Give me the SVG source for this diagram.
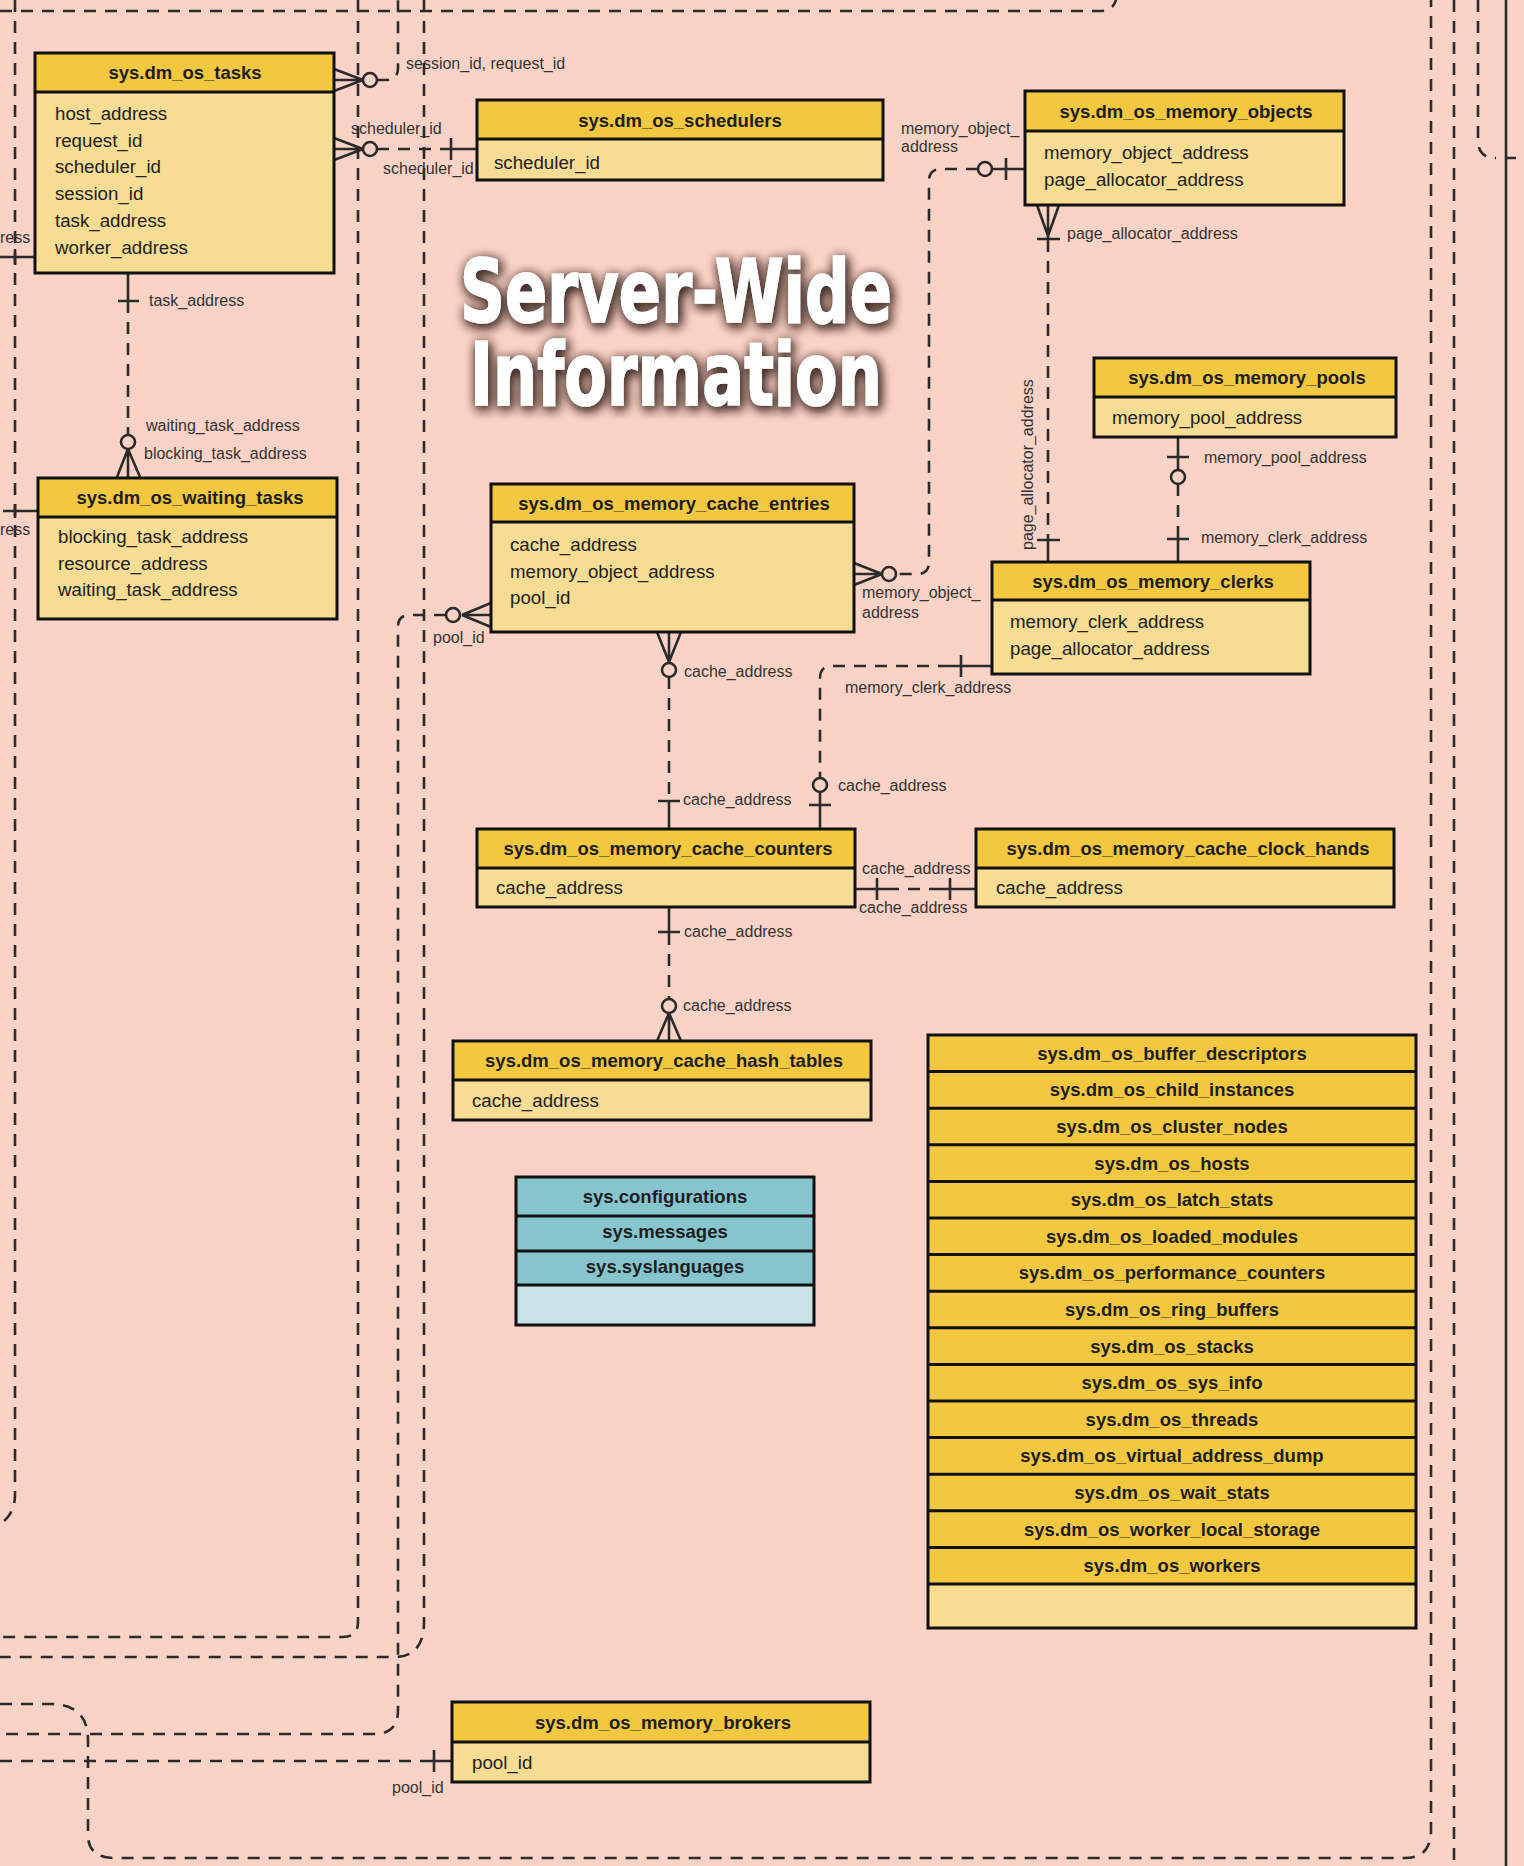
<svg xmlns="http://www.w3.org/2000/svg" width="1524" height="1866" viewBox="0 0 1524 1866">
<defs>
<style>
.hd{fill:#F2C840}
.fd{fill:#F7DC93}
.th{fill:#86C5CD}
.tl{fill:#C8E2E6}
.ob{fill:none;stroke:#111;stroke-width:3}
.dv{stroke:#111;stroke-width:3}
.ht{font-family:"Liberation Sans",Arial,sans-serif;font-weight:bold;font-size:18.5px;fill:#1e1e1e;text-anchor:middle}
.ft{font-family:"Liberation Sans",Arial,sans-serif;font-size:18.7px;fill:#222}
.lb{font-family:"Liberation Sans",Arial,sans-serif;font-size:16px;fill:#333}
.dl{fill:none;stroke:#2b2b2b;stroke-width:2.6;stroke-dasharray:12 9}
.sl{fill:none;stroke:#2b2b2b;stroke-width:2.6}
.ci{fill:#FAD3C6;stroke:#2b2b2b;stroke-width:2.6}
.tt{font-family:"DejaVu Sans",sans-serif;font-weight:bold;font-stretch:condensed;font-size:88px;fill:#fff;stroke:#fff;stroke-width:1.5}
</style>
<filter id="glow" x="-20%" y="-50%" width="140%" height="200%">
<feGaussianBlur in="SourceAlpha" stdDeviation="6" result="b"/>
<feOffset in="b" dx="2" dy="3" result="o"/>
<feFlood flood-color="#3b2622" flood-opacity="0.9"/>
<feComposite in2="o" operator="in" result="s"/>
<feMerge><feMergeNode in="s"/><feMergeNode in="s"/><feMergeNode in="SourceGraphic"/></feMerge>
</filter>
</defs>
<rect x="0" y="0" width="1524" height="1866" fill="#FAD3C6"/>

<g id="connectors">
<path class="dl" d="M15,0 V1495 Q15,1512 3,1522"/>
<path class="dl" d="M0,11 H1100 Q1113,11 1116,0"/>
<path class="dl" d="M358,0 V1622 Q358,1637 343,1637 H0"/>
<path class="dl" d="M424,0 V1622 Q424,1657 394,1657 H0"/>
<path class="dl" d="M0,1704 H50 Q88,1704 88,1740 V1835 Q88,1858 115,1858 H1405 Q1431,1858 1431,1830 V0"/>
<path class="dl" d="M1454,0 V1866"/>
<path class="dl" d="M1478,0 V140 Q1478,158 1496,158"/>
<path class="sl" d="M1506,0 V1866 M1506,158 H1516"/>
<path class="sl" d="M334,69 L363,80 M334,80 H363 M334,91 L363,80"/>
<circle class="ci" cx="370" cy="80" r="7"/>
<path class="dl" d="M377,80 H386 Q398,80 398,68 V0"/>
<path class="sl" d="M334,138 L363,149 M334,149 H363 M334,160 L363,149"/>
<circle class="ci" cx="370" cy="149" r="7"/>
<path class="dl" d="M377,149 H441"/>
<path class="sl" d="M441,149 H477 M451,138 V160"/>
<path class="sl" d="M128,273 V301 M118,301 H139"/>
<path class="dl" d="M128,301 V435"/>
<circle class="ci" cx="128" cy="442" r="7"/>
<path class="sl" d="M128,449 L117,477 M128,449 V477 M128,449 L140,477"/>
<path class="dl" d="M0,257 H10"/>
<path class="sl" d="M10,257 H35 M15,249 V265"/>
<path class="sl" d="M3,511 H38 M15,504 V518"/>
<path class="sl" d="M1025,169 H993 M1006,158 V180"/>
<circle class="ci" cx="985" cy="169" r="7"/>
<path class="dl" d="M978,169 H941 Q929,169 929,181 V562 Q929,574 917,574 H897"/>
<circle class="ci" cx="889" cy="574" r="7"/>
<path class="sl" d="M854,563 L882,574 M854,574 H882 M854,585 L882,574"/>
<path class="sl" d="M1037,205 L1048,236 M1048,205 V240 M1059,205 L1048,236 M1037,239 H1060"/>
<path class="dl" d="M1048,240 V540"/>
<path class="sl" d="M1037,540 H1060 M1048,540 V562"/>
<path class="sl" d="M1178,437 V470 M1167,457 H1189"/>
<circle class="ci" cx="1178" cy="477" r="7"/>
<path class="dl" d="M1178,484 V539"/>
<path class="sl" d="M1167,539 H1189 M1178,539 V562"/>
<path class="sl" d="M657,632 L669,662 M669,632 V663 M681,632 L669,662"/>
<circle class="ci" cx="669" cy="670" r="7"/>
<path class="dl" d="M669,677 V801"/>
<path class="sl" d="M658,801 H680 M669,801 V829"/>
<path class="sl" d="M992,666 H950 M961,655 V677"/>
<path class="dl" d="M950,666 H832 Q820,666 820,678 V778"/>
<circle class="ci" cx="820" cy="785" r="7"/>
<path class="sl" d="M820,792 V829 M809,805 H831"/>
<path class="sl" d="M855,889 H887 M877,878 V900"/>
<path class="dl" d="M887,889 H940"/>
<path class="sl" d="M940,889 H976 M950,878 V900"/>
<path class="sl" d="M669,907 V932 M658,932 H680"/>
<path class="dl" d="M669,933 V999"/>
<circle class="ci" cx="669" cy="1006" r="7"/>
<path class="sl" d="M669,1013 L657,1041 M669,1013 V1041 M669,1013 L681,1041"/>
<path class="sl" d="M491,603 L462,615 M491,615 H462 M491,627 L462,615"/>
<circle class="ci" cx="453" cy="615" r="7"/>
<path class="dl" d="M446,615 H410 Q398,615 398,627 V1710 Q398,1734 374,1734 H0"/>
<path class="dl" d="M0,1761 H425"/>
<path class="sl" d="M425,1761 H452 M434,1750 V1772"/>
<text class="lb" x="406" y="69">session_id, request_id</text>
<text class="lb" x="351" y="134">scheduler_id</text>
<text class="lb" x="383" y="174">scheduler_id</text>
<text class="lb" x="149" y="306">task_address</text>
<text class="lb" x="146" y="431">waiting_task_address</text>
<text class="lb" x="144" y="459">blocking_task_address</text>
<text class="lb" x="0" y="243">ress</text>
<text class="lb" x="0" y="535">ress</text>
<text class="lb" x="901" y="134">memory_object_</text>
<text class="lb" x="901" y="152">address</text>
<text class="lb" x="1067" y="239">page_allocator_address</text>
<text class="lb" transform="translate(1033,550) rotate(-90)">page_allocator_address</text>
<text class="lb" x="1204" y="463">memory_pool_address</text>
<text class="lb" x="1201" y="543">memory_clerk_address</text>
<text class="lb" x="862" y="598">memory_object_</text>
<text class="lb" x="862" y="618">address</text>
<text class="lb" x="433" y="643">pool_id</text>
<text class="lb" x="684" y="677">cache_address</text>
<text class="lb" x="845" y="693">memory_clerk_address</text>
<text class="lb" x="838" y="791">cache_address</text>
<text class="lb" x="683" y="805">cache_address</text>
<text class="lb" x="862" y="874">cache_address</text>
<text class="lb" x="859" y="913">cache_address</text>
<text class="lb" x="684" y="937">cache_address</text>
<text class="lb" x="683" y="1011">cache_address</text>
<text class="lb" x="392" y="1793">pool_id</text>
</g>

<g id="title" filter="url(#glow)">
<text class="tt"><tspan x="460" y="322" textLength="432" lengthAdjust="spacingAndGlyphs">Server-Wide</tspan><tspan x="470" y="405" textLength="412" lengthAdjust="spacingAndGlyphs">Information</tspan></text>
</g>

<g id="dm_os_tasks">
<rect class="hd" x="35" y="53" width="299" height="39"/>
<rect class="fd" x="35" y="92" width="299" height="181"/>
<line class="dv" x1="35" y1="92" x2="334" y2="92"/>
<rect class="ob" x="35" y="53" width="299" height="220"/>
<text class="ht" x="185" y="79">sys.dm_os_tasks</text>
<text class="ft" x="55" y="120">host_address</text>
<text class="ft" x="55" y="147">request_id</text>
<text class="ft" x="55" y="173">scheduler_id</text>
<text class="ft" x="55" y="200">session_id</text>
<text class="ft" x="55" y="227">task_address</text>
<text class="ft" x="55" y="254">worker_address</text>
</g>

<g id="dm_os_schedulers">
<rect class="hd" x="477" y="100" width="406" height="39"/>
<rect class="fd" x="477" y="139" width="406" height="41"/>
<line class="dv" x1="477" y1="139" x2="883" y2="139"/>
<rect class="ob" x="477" y="100" width="406" height="80"/>
<text class="ht" x="680" y="127">sys.dm_os_schedulers</text>
<text class="ft" x="494" y="169">scheduler_id</text>
</g>

<g id="dm_os_memory_objects">
<rect class="hd" x="1025" y="91" width="319" height="40"/>
<rect class="fd" x="1025" y="131" width="319" height="74"/>
<line class="dv" x1="1025" y1="131" x2="1344" y2="131"/>
<rect class="ob" x="1025" y="91" width="319" height="114"/>
<text class="ht" x="1186" y="118">sys.dm_os_memory_objects</text>
<text class="ft" x="1044" y="159">memory_object_address</text>
<text class="ft" x="1044" y="186">page_allocator_address</text>
</g>

<g id="dm_os_waiting_tasks">
<rect class="hd" x="38" y="478" width="299" height="39"/>
<rect class="fd" x="38" y="517" width="299" height="102"/>
<line class="dv" x1="38" y1="517" x2="337" y2="517"/>
<rect class="ob" x="38" y="478" width="299" height="141"/>
<text class="ht" x="190" y="504">sys.dm_os_waiting_tasks</text>
<text class="ft" x="58" y="543">blocking_task_address</text>
<text class="ft" x="58" y="570">resource_address</text>
<text class="ft" x="58" y="596">waiting_task_address</text>
</g>

<g id="dm_os_memory_cache_entries">
<rect class="hd" x="491" y="484" width="363" height="38"/>
<rect class="fd" x="491" y="522" width="363" height="110"/>
<line class="dv" x1="491" y1="522" x2="854" y2="522"/>
<rect class="ob" x="491" y="484" width="363" height="148"/>
<text class="ht" x="674" y="510">sys.dm_os_memory_cache_entries</text>
<text class="ft" x="510" y="551">cache_address</text>
<text class="ft" x="510" y="578">memory_object_address</text>
<text class="ft" x="510" y="604">pool_id</text>
</g>

<g id="dm_os_memory_pools">
<rect class="hd" x="1094" y="358" width="302" height="39"/>
<rect class="fd" x="1094" y="397" width="302" height="40"/>
<line class="dv" x1="1094" y1="397" x2="1396" y2="397"/>
<rect class="ob" x="1094" y="358" width="302" height="79"/>
<text class="ht" x="1247" y="384">sys.dm_os_memory_pools</text>
<text class="ft" x="1112" y="424">memory_pool_address</text>
</g>

<g id="dm_os_memory_clerks">
<rect class="hd" x="992" y="562" width="318" height="38"/>
<rect class="fd" x="992" y="600" width="318" height="74"/>
<line class="dv" x1="992" y1="600" x2="1310" y2="600"/>
<rect class="ob" x="992" y="562" width="318" height="112"/>
<text class="ht" x="1153" y="588">sys.dm_os_memory_clerks</text>
<text class="ft" x="1010" y="628">memory_clerk_address</text>
<text class="ft" x="1010" y="655">page_allocator_address</text>
</g>

<g id="dm_os_memory_cache_counters">
<rect class="hd" x="477" y="829" width="378" height="39"/>
<rect class="fd" x="477" y="868" width="378" height="39"/>
<line class="dv" x1="477" y1="868" x2="855" y2="868"/>
<rect class="ob" x="477" y="829" width="378" height="78"/>
<text class="ht" x="668" y="855">sys.dm_os_memory_cache_counters</text>
<text class="ft" x="496" y="894">cache_address</text>
</g>

<g id="dm_os_memory_cache_clock_hands">
<rect class="hd" x="976" y="829" width="418" height="39"/>
<rect class="fd" x="976" y="868" width="418" height="39"/>
<line class="dv" x1="976" y1="868" x2="1394" y2="868"/>
<rect class="ob" x="976" y="829" width="418" height="78"/>
<text class="ht" x="1188" y="855">sys.dm_os_memory_cache_clock_hands</text>
<text class="ft" x="996" y="894">cache_address</text>
</g>

<g id="dm_os_memory_cache_hash_tables">
<rect class="hd" x="453" y="1041" width="418" height="39"/>
<rect class="fd" x="453" y="1080" width="418" height="40"/>
<line class="dv" x1="453" y1="1080" x2="871" y2="1080"/>
<rect class="ob" x="453" y="1041" width="418" height="79"/>
<text class="ht" x="664" y="1067">sys.dm_os_memory_cache_hash_tables</text>
<text class="ft" x="472" y="1107">cache_address</text>
</g>

<g id="sys_catalog">
<rect class="th" x="516" y="1177" width="298" height="108"/>
<rect class="tl" x="516" y="1285" width="298" height="40"/>
<line class="dv" x1="516" y1="1216" x2="814" y2="1216"/>
<line class="dv" x1="516" y1="1251" x2="814" y2="1251"/>
<line class="dv" x1="516" y1="1285" x2="814" y2="1285"/>
<rect class="ob" x="516" y="1177" width="298" height="148"/>
<text class="ht" x="665" y="1203">sys.configurations</text>
<text class="ht" x="665" y="1238">sys.messages</text>
<text class="ht" x="665" y="1273">sys.syslanguages</text>
</g>

<g id="dm_os_list">
<rect class="hd" x="928" y="1035" width="488" height="549"/>
<rect class="fd" x="928" y="1584" width="488" height="44"/>
<g class="dv">
<line x1="928" y1="1071.6" x2="1416" y2="1071.6"/>
<line x1="928" y1="1108.2" x2="1416" y2="1108.2"/>
<line x1="928" y1="1144.8" x2="1416" y2="1144.8"/>
<line x1="928" y1="1181.4" x2="1416" y2="1181.4"/>
<line x1="928" y1="1218" x2="1416" y2="1218"/>
<line x1="928" y1="1254.6" x2="1416" y2="1254.6"/>
<line x1="928" y1="1291.2" x2="1416" y2="1291.2"/>
<line x1="928" y1="1327.8" x2="1416" y2="1327.8"/>
<line x1="928" y1="1364.4" x2="1416" y2="1364.4"/>
<line x1="928" y1="1401" x2="1416" y2="1401"/>
<line x1="928" y1="1437.6" x2="1416" y2="1437.6"/>
<line x1="928" y1="1474.2" x2="1416" y2="1474.2"/>
<line x1="928" y1="1510.8" x2="1416" y2="1510.8"/>
<line x1="928" y1="1547.4" x2="1416" y2="1547.4"/>
<line x1="928" y1="1584" x2="1416" y2="1584"/>
</g>
<rect class="ob" x="928" y="1035" width="488" height="593"/>
<text class="ht" x="1172" y="1060">sys.dm_os_buffer_descriptors</text>
<text class="ht" x="1172" y="1096.4">sys.dm_os_child_instances</text>
<text class="ht" x="1172" y="1133">sys.dm_os_cluster_nodes</text>
<text class="ht" x="1172" y="1169.6">sys.dm_os_hosts</text>
<text class="ht" x="1172" y="1206.2">sys.dm_os_latch_stats</text>
<text class="ht" x="1172" y="1242.8">sys.dm_os_loaded_modules</text>
<text class="ht" x="1172" y="1279.4">sys.dm_os_performance_counters</text>
<text class="ht" x="1172" y="1316">sys.dm_os_ring_buffers</text>
<text class="ht" x="1172" y="1352.6">sys.dm_os_stacks</text>
<text class="ht" x="1172" y="1389.2">sys.dm_os_sys_info</text>
<text class="ht" x="1172" y="1425.8">sys.dm_os_threads</text>
<text class="ht" x="1172" y="1462.4">sys.dm_os_virtual_address_dump</text>
<text class="ht" x="1172" y="1499">sys.dm_os_wait_stats</text>
<text class="ht" x="1172" y="1535.6">sys.dm_os_worker_local_storage</text>
<text class="ht" x="1172" y="1572.2">sys.dm_os_workers</text>
</g>

<g id="dm_os_memory_brokers">
<rect class="hd" x="452" y="1702" width="418" height="40"/>
<rect class="fd" x="452" y="1742" width="418" height="40"/>
<line class="dv" x1="452" y1="1742" x2="870" y2="1742"/>
<rect class="ob" x="452" y="1702" width="418" height="80"/>
<text class="ht" x="663" y="1729">sys.dm_os_memory_brokers</text>
<text class="ft" x="472" y="1769">pool_id</text>
</g>
</svg>
